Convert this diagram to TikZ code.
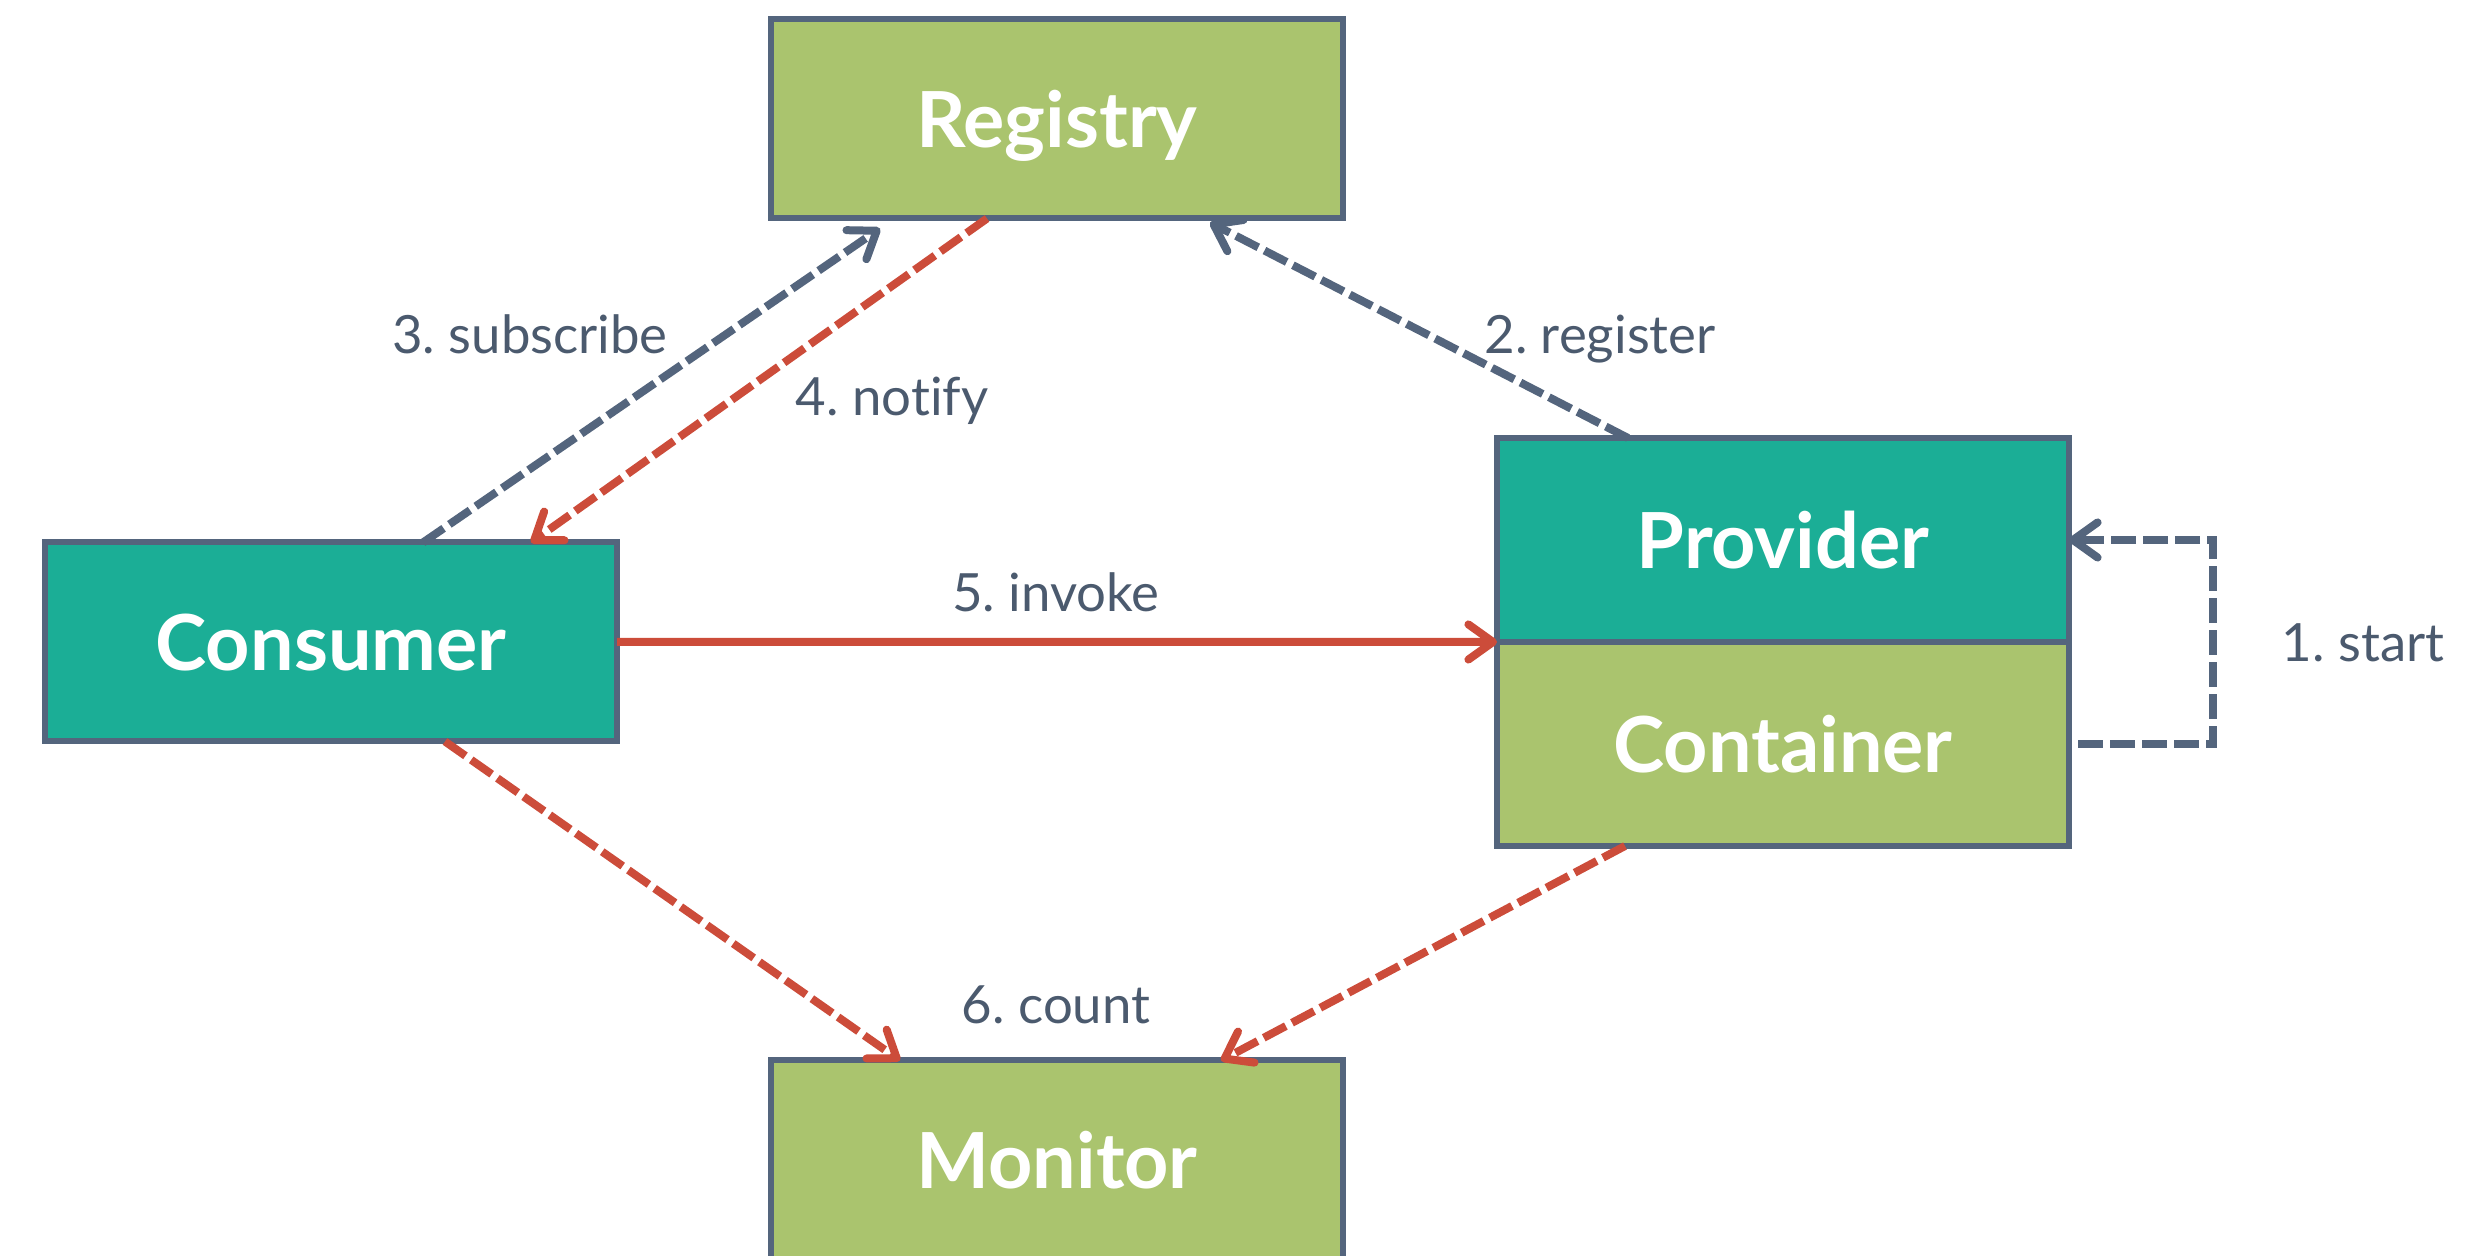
\documentclass[tikz,border=0pt]{standalone}
\usepackage{fontspec}
\setmainfont{Lato}[Ligatures=NoCommon]
\usetikzlibrary{positioning, arrows.meta, calc}

\definecolor{tealbox}{HTML}{1BAE96}
\definecolor{greenbox}{HTML}{AAC46E}
\definecolor{edgegray}{HTML}{54657D}
\definecolor{labelgray}{HTML}{4B5A6E}
\definecolor{redline}{HTML}{CC4C3A}
\frenchspacing

\begin{document}
\begin{tikzpicture}[
		box/.style={draw=edgegray, line width=0.06cm, minimum width=5.72cm, minimum height=1.99cm, outer sep=0pt, text=white, text depth=0pt, font=\bfseries\fontsize{22}{26}\selectfont},
		part/.style={box, minimum height=2.04cm},
		lbl/.style={text=labelgray, anchor=base, font=\fontsize{15}{18}\selectfont},
		flow/.style={line width=0.08cm, -{Straight Barb[length=7pt, width=10pt, round]}},
		dashflow/.style={flow, dash pattern=on 0.25cm off 0.07cm},
	]
		\useasboundingbox (0, 0) rectangle (24.83, 12.56);

		% boxes
		\node[box, fill=greenbox] (registry) at (10.57, 11.37) {Registry};
		\node[box, fill=tealbox] (consumer) at (3.31, 6.14) {Consumer};
		\node[part, fill=tealbox] (provider) at (17.83, 7.16) {Provider};
		\node[part, fill=greenbox, below=0pt of provider] (container) {Container};
		\node[box, fill=greenbox] (monitor) at (10.57, 0.96) {Monitor};

		% 1. start
		\coordinate (startbend) at (22.13, 0);
		\draw[dashflow, draw=edgegray] ([xshift=0.09cm]container.east) -- (container.east -| startbend) -- (provider.east -| startbend) -- (provider.east);
		\node[lbl] (startlbl) at (23.63, 5.94) {1. start};

		% 2. register, 3. subscribe, 4. notify
		\draw[dashflow, draw=edgegray] ([xshift=-1.55cm]provider.north) -- ([xshift=1.53cm, yshift=-0.04cm]registry.south);
		\draw[dashflow, draw=edgegray] ([xshift=0.92cm]consumer.north) -- ([xshift=-1.77cm, yshift=-0.1cm]registry.south);
		\draw[dashflow, draw=redline] ([xshift=-0.7cm]registry.south) -- ([xshift=2cm]consumer.north);
		\node[lbl] (registerlbl) at (16.00, 9.02) {2. register};
		\node[lbl] (subscribelbl) at (5.30, 9.02) {3. subscribe};
		\node[lbl] (notifylbl) at (8.92, 8.40) {4. notify};

		% 5. invoke
		\draw[flow, draw=redline] (consumer.east) -- (provider.south west);
		\node[lbl] (invokelbl) at (10.56, 6.44) {5. invoke};

		% 6. count
		\draw[dashflow, draw=redline] ([xshift=1.14cm]consumer.south) -- ([xshift=-1.57cm]monitor.north);
		\draw[dashflow, draw=redline] ([xshift=-1.58cm]container.south) -- ([xshift=1.64cm]monitor.north);
		\node[lbl] (countlbl) at (10.56, 2.32) {6. count};
	\end{tikzpicture}
\end{document}
